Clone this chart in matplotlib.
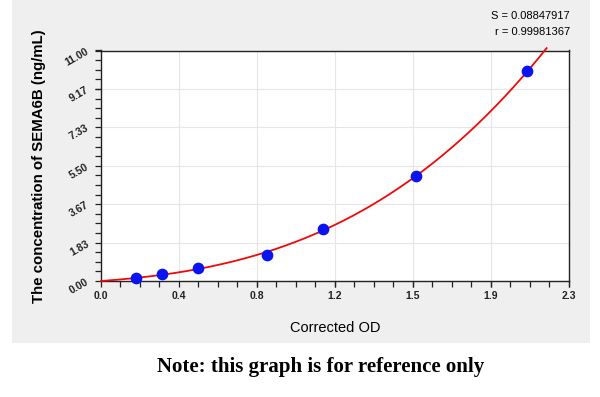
import numpy as np
import matplotlib
matplotlib.use("Agg")
import matplotlib.pyplot as plt
from matplotlib.ticker import AutoMinorLocator

# standard curve points
od = [0.171, 0.301, 0.477, 0.814, 1.090, 1.548, 2.095]
conc = [0.156, 0.312, 0.625, 1.25, 2.5, 5.0, 10.0]

x_ticks = [0.0, 0.3833, 0.7667, 1.15, 1.5333, 1.9167, 2.3]
x_labels = ["0.0", "0.4", "0.8", "1.2", "1.5", "1.9", "2.3"]
y_ticks = [0.0, 1.8333, 3.6667, 5.5, 7.3333, 9.1667, 11.0]
y_labels = ["0.00", "1.83", "3.67", "5.50", "7.33", "9.17", "11.00"]

plt.rcParams['font.family'] = ['Liberation Sans', 'DejaVu Sans']

fig = plt.figure(figsize=(6.0, 3.97), dpi=100)
W, H = 600, 397

# gray panel behind the plot
bg = fig.add_axes([12 / W, 1 - 343 / H, 578 / W, 343 / H], zorder=-5)
bg.set_facecolor('#efefef')
bg.set_xticks([])
bg.set_yticks([])
for sp in bg.spines.values():
    sp.set_visible(False)

ax = fig.add_axes([101 / W, 1 - 281 / H, 468 / W, 230.5 / H], zorder=1)
ax.set_xlim(0, 2.3)
ax.set_ylim(0, 11)

# fitted curve, cubic through the origin
x = np.array(od)
A = np.column_stack([x, x**2, x**3])
c, *_ = np.linalg.lstsq(A, np.array(conc), rcond=None)
xs = np.linspace(0, 2.19, 300)
ys = c[0] * xs + c[1] * xs**2 + c[2] * xs**3
ax.plot(xs, ys, color='#ee0a0a', lw=1.3, zorder=3, clip_on=False)
ax.scatter(od, conc, s=55, color='#0a14f0', zorder=4, clip_on=False)

ax.set_xticks(x_ticks)
ax.set_xticklabels(x_labels)
ax.set_yticks(y_ticks)
ax.set_yticklabels(y_labels, rotation=30)
ax.xaxis.set_minor_locator(AutoMinorLocator(4))
ax.yaxis.set_minor_locator(AutoMinorLocator(4))
ax.tick_params(which='both', direction='out', length=4, width=0.9, color='#222222')
ax.tick_params(labelsize=7.5)
for lbl in ax.get_xticklabels() + ax.get_yticklabels():
    lbl.set_fontweight('bold')
    lbl.set_color('#222222')
ax.grid(True, which='major', color='#e6e6e6', lw=0.8)
ax.set_axisbelow(True)
for sp in ax.spines.values():
    sp.set_color('#222222')
    sp.set_linewidth(1.0)

ax.set_xlabel("Corrected OD", fontsize=10.5, labelpad=14)
ax.set_ylabel("The concentration of SEMA6B (ng/mL)", fontsize=10.8, fontweight='bold', labelpad=13)

fig.text(570 / W, 1 - 16 / H, "S = 0.08847917", ha='right', va='center', fontsize=8)
fig.text(570 / W, 1 - 32 / H, "r = 0.99981367", ha='right', va='center', fontsize=8)

fig.text(321 / W, 1 - 367 / H, "Note: this graph is for reference only", ha='center', va='center',
         fontsize=15, fontweight='bold', family=['Liberation Serif', 'DejaVu Serif'])

fig.savefig("out.png", dpi=100, facecolor='white')
